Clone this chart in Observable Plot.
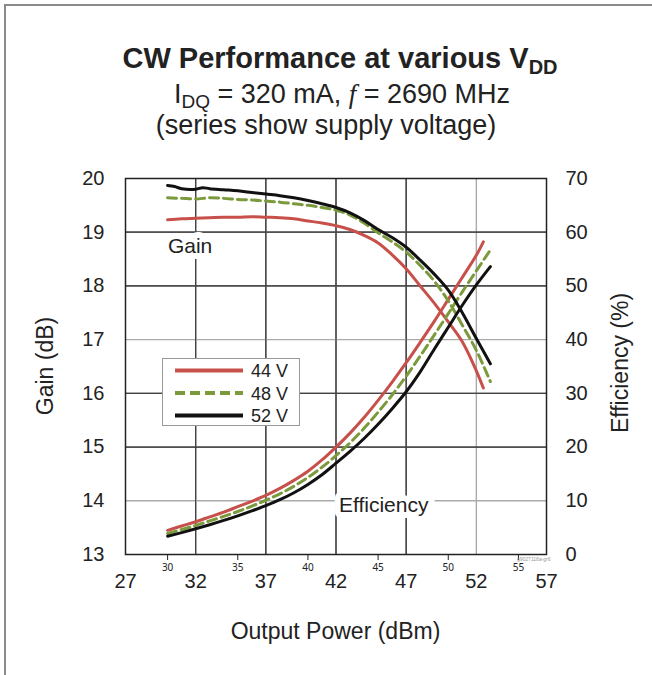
<!DOCTYPE html>
<html><head><meta charset="utf-8">
<script src="https://cdn.jsdelivr.net/npm/d3@7"></script>
<script src="https://cdn.jsdelivr.net/npm/@observablehq/plot@0.6"></script>
<style>
body{margin:0;background:#fff;font-family:"Liberation Sans",Arial,Helvetica,sans-serif;color:#222;}
#grid{position:absolute;left:0;top:150px;}
#chart{position:absolute;left:0;top:150px;}
.t{position:absolute;left:0;width:652px;text-align:center;line-height:1;white-space:nowrap;}
#title{top:44px;font-size:29px;font-weight:bold;left:14px;}
#title sub{font-size:20px;vertical-align:-6px;line-height:0;}
#sub1{top:81px;font-size:27px;left:16px;}
#sub1 sub{font-size:19px;vertical-align:-5px;line-height:0;}
#sub2{top:112px;font-size:27px;}
.al{position:absolute;font-size:23px;line-height:1;white-space:nowrap;}
#legend{position:absolute;left:162px;top:358px;width:136px;height:66px;border:1px solid #999;background:#fff;}
#wm{position:absolute;left:517px;top:556px;font-size:5px;color:#999;}
#bl{position:absolute;left:4px;top:4px;width:2px;height:671px;background:#8a8a8a;}
#bt{position:absolute;left:4px;top:4px;width:648px;height:2px;background:#8a8a8a;}
</style></head>
<body>
<div id="bl"></div>
<div id="bt"></div>
<div id="grid"></div>
<div id="chart"></div>
<div class="t" id="title">CW Performance at various V<sub>DD</sub></div>
<div class="t" id="sub1">I<sub>DQ</sub> = 320 mA, <span style="font-family:'Liberation Serif',serif;font-style:italic">f</span> = 2690 MHz</div>
<div class="t" id="sub2">(series show supply voltage)</div>
<div class="al" id="xl">Output Power (dBm)</div>
<div class="al" id="yl">Gain (dB)</div>
<div class="al" id="yr">Efficiency (%)</div>
<div id="legend"></div>
<div id="wm">g9027118a-gr6</div>
<script>
// ---- data ----
const series = ["44 V", "48 V", "52 V"];
const seriesColors = ["#c8504b", "#7a9a3c", "#111111"];
const xTicks = [27, 32, 37, 42, 47, 52, 57];
const gainTicks = [13, 14, 15, 16, 17, 18, 19, 20];
const effTicks = [0, 10, 20, 30, 40, 50, 60, 70];

const pout44 = [30,31,32,33,34,35,36,37,38,39,40,41,42,43,44,45,46,47,48,49,50,51,52,52.5];
const gain44 = [19.23,19.25,19.26,19.27,19.28,19.28,19.29,19.28,19.27,19.25,19.21,19.17,19.12,19.05,18.94,18.80,18.58,18.32,18.00,17.68,17.33,16.96,16.42,16.10];
const eff44  = [4.5,5.3,6.1,7.0,7.9,8.9,9.9,11.0,12.3,13.8,15.5,17.6,20.0,22.6,25.5,28.7,32.1,35.7,39.5,43.4,47.5,51.6,55.7,58.2];

const pout48 = [30,31,32,33,34,35,36,37,38,39,40,41,42,43,44,45,46,47,48,49,50,51,52,53];
const gain48 = [19.64,19.63,19.62,19.64,19.63,19.61,19.60,19.58,19.56,19.53,19.50,19.46,19.41,19.32,19.17,18.99,18.82,18.63,18.38,18.09,17.72,17.27,16.80,16.22];
const eff48  = [3.9,4.65,5.4,6.25,7.1,8.0,9.0,10.1,11.3,12.7,14.35,16.25,18.4,20.8,23.5,26.5,29.7,33.2,36.95,40.85,44.85,48.9,52.8,56.7];

const pout52g = [30,30.5,31,32,32.5,33,34,35,36,37,38,39,40,41,42,43,44,45,46,47,48,49,50,51,52,53];
const gain52  = [19.87,19.85,19.81,19.80,19.83,19.81,19.79,19.77,19.74,19.71,19.68,19.64,19.59,19.53,19.46,19.36,19.22,19.05,18.90,18.72,18.48,18.22,17.92,17.50,17.02,16.55];
const pout52e = [30,31,32,33,34,35,36,37,38,39,40,41,42,43,44,45,46,47,48,49,50,51,52,53];
const eff52   = [3.4,4.08,4.79,5.54,6.34,7.2,8.12,9.1,10.2,11.5,13.05,14.85,17.0,19.2,21.6,24.25,27.15,30.3,34.0,38.2,42.3,46.4,50.2,53.6];

const annotations = [{label: "Gain", x: 31.6, y: 18.73}, {label: "Efficiency", x: 45.4, y: 13.92}];
const gridXDark = [32, 37, 42, 47], gridXLight = [52];
const gridYDark = [15, 16, 18, 19], gridYLight = [14, 17];

// ---- shared layout ----
const layout = {
  width: 652, height: 525,
  marginLeft: 125, marginRight: 106, marginTop: 28, marginBottom: 121,
  x: {domain: [27, 57]},
  y: {domain: [13, 20]}
};

// ---- build tables ----
const effToGain = e => 13 + e / 10;  // right axis 0..70 maps onto left 13..20
const gainTables = [
  pout44.map((x, i) => ({x, y: gain44[i]})),
  pout48.map((x, i) => ({x, y: gain48[i]})),
  pout52g.map((x, i) => ({x, y: gain52[i]}))
];
const effTables = [
  pout44.map((x, i) => ({x, y: effToGain(eff44[i])})),
  pout48.map((x, i) => ({x, y: effToGain(eff48[i])})),
  pout52e.map((x, i) => ({x, y: effToGain(eff52[i])}))
];
const dashes = [null, "9,5", null];

// grid layer (separate chart behind the data layer, same scales and margins)
const gridChart = Plot.plot({
  ...layout,
  style: {overflow: "visible"},
  marks: [
    Plot.gridX(gridXDark, {stroke: "#444", strokeOpacity: 1, strokeWidth: 1.2}),
    Plot.gridX(gridXLight, {stroke: "#aaa", strokeOpacity: 1, strokeWidth: 1.4}),
    Plot.gridY(gridYDark, {stroke: "#444", strokeOpacity: 1, strokeWidth: 1.2}),
    Plot.gridY(gridYLight, {stroke: "#aaa", strokeOpacity: 1, strokeWidth: 1.4}),
    Plot.axisX(xTicks, {anchor: "bottom", tickSize: 0, tickPadding: 19, label: null, fontSize: 20, fill: "none", tickFormat: () => ""}),
    Plot.axisY(gainTicks, {anchor: "left", tickSize: 0, label: null, tickFormat: () => ""})
  ]
});
document.getElementById("grid").appendChild(gridChart);

const lineMarks = [];
[0, 1, 2].forEach(k => {
  for (const tbl of [gainTables[k], effTables[k]]) {
    const opts = {x: "x", y: "y", stroke: seriesColors[k], strokeWidth: 3, curve: "catmull-rom"};
    if (dashes[k]) opts.strokeDasharray = dashes[k];
    lineMarks.push(Plot.line(tbl, opts));
  }
});

const chart = Plot.plot({
  ...layout,
  style: {fontFamily: '"Liberation Sans", Arial, Helvetica, sans-serif', fontSize: "20px", color: "#222", background: "none", overflow: "visible"},
  marks: [
    Plot.gridX(gridXDark, {stroke: "#444", strokeOpacity: 1, strokeWidth: 1.2}),
    Plot.gridY(gridYDark, {stroke: "#444", strokeOpacity: 1, strokeWidth: 1.2}),
    Plot.axisX(xTicks, {anchor: "bottom", tickSize: 0, tickPadding: 19, label: null, fontSize: 20, tickFormat: d => String(d)}),
    Plot.axisY(gainTicks, {anchor: "left", tickSize: 0, tickPadding: 21, label: null, fontSize: 20, tickFormat: d => String(d)}),
    Plot.axisY(effTicks.map(effToGain), {anchor: "right", tickSize: 0, tickPadding: 19, label: null, fontSize: 20,
      tickFormat: d => String(Math.round((d - 13) * 10))}),
    ...lineMarks,
    Plot.text(annotations, {x: "x", y: "y", text: "label", fontSize: 21, fill: "#222", stroke: "white", strokeWidth: 12}),
    Plot.frame({stroke: "#222", strokeWidth: 1.5})
  ]
});
document.getElementById("chart").appendChild(chart);

// axis titles placed around the plot frame
const xl = document.getElementById("xl");
xl.style.left = "0px"; xl.style.width = "671px"; xl.style.textAlign = "center"; xl.style.top = "620px";
const yl = document.getElementById("yl");
yl.style.left = "45px"; yl.style.top = "366px"; yl.style.transform = "translate(-50%,-50%) rotate(-90deg)";
const yr = document.getElementById("yr");
yr.style.left = "620px"; yr.style.top = "363px"; yr.style.transform = "translate(-50%,-50%) rotate(-90deg)";

// legend
const ns = "http://www.w3.org/2000/svg";
const lsvg = document.createElementNS(ns, "svg");
lsvg.setAttribute("width", 136); lsvg.setAttribute("height", 66);
series.forEach((s, k) => {
  const cy = 11.5 + k * 22.5;
  const ln = document.createElementNS(ns, "line");
  ln.setAttribute("x1", 12); ln.setAttribute("x2", 80);
  ln.setAttribute("y1", cy); ln.setAttribute("y2", cy);
  ln.setAttribute("stroke", seriesColors[k]); ln.setAttribute("stroke-width", 4);
  if (dashes[k]) ln.setAttribute("stroke-dasharray", "10,5");
  lsvg.appendChild(ln);
  const tx = document.createElementNS(ns, "text");
  tx.setAttribute("x", 88); tx.setAttribute("y", cy + 6.5);
  tx.setAttribute("font-size", 18); tx.setAttribute("fill", "#222");
  tx.textContent = s;
  lsvg.appendChild(tx);
});
document.getElementById("legend").appendChild(lsvg);
</script>
</body></html>
